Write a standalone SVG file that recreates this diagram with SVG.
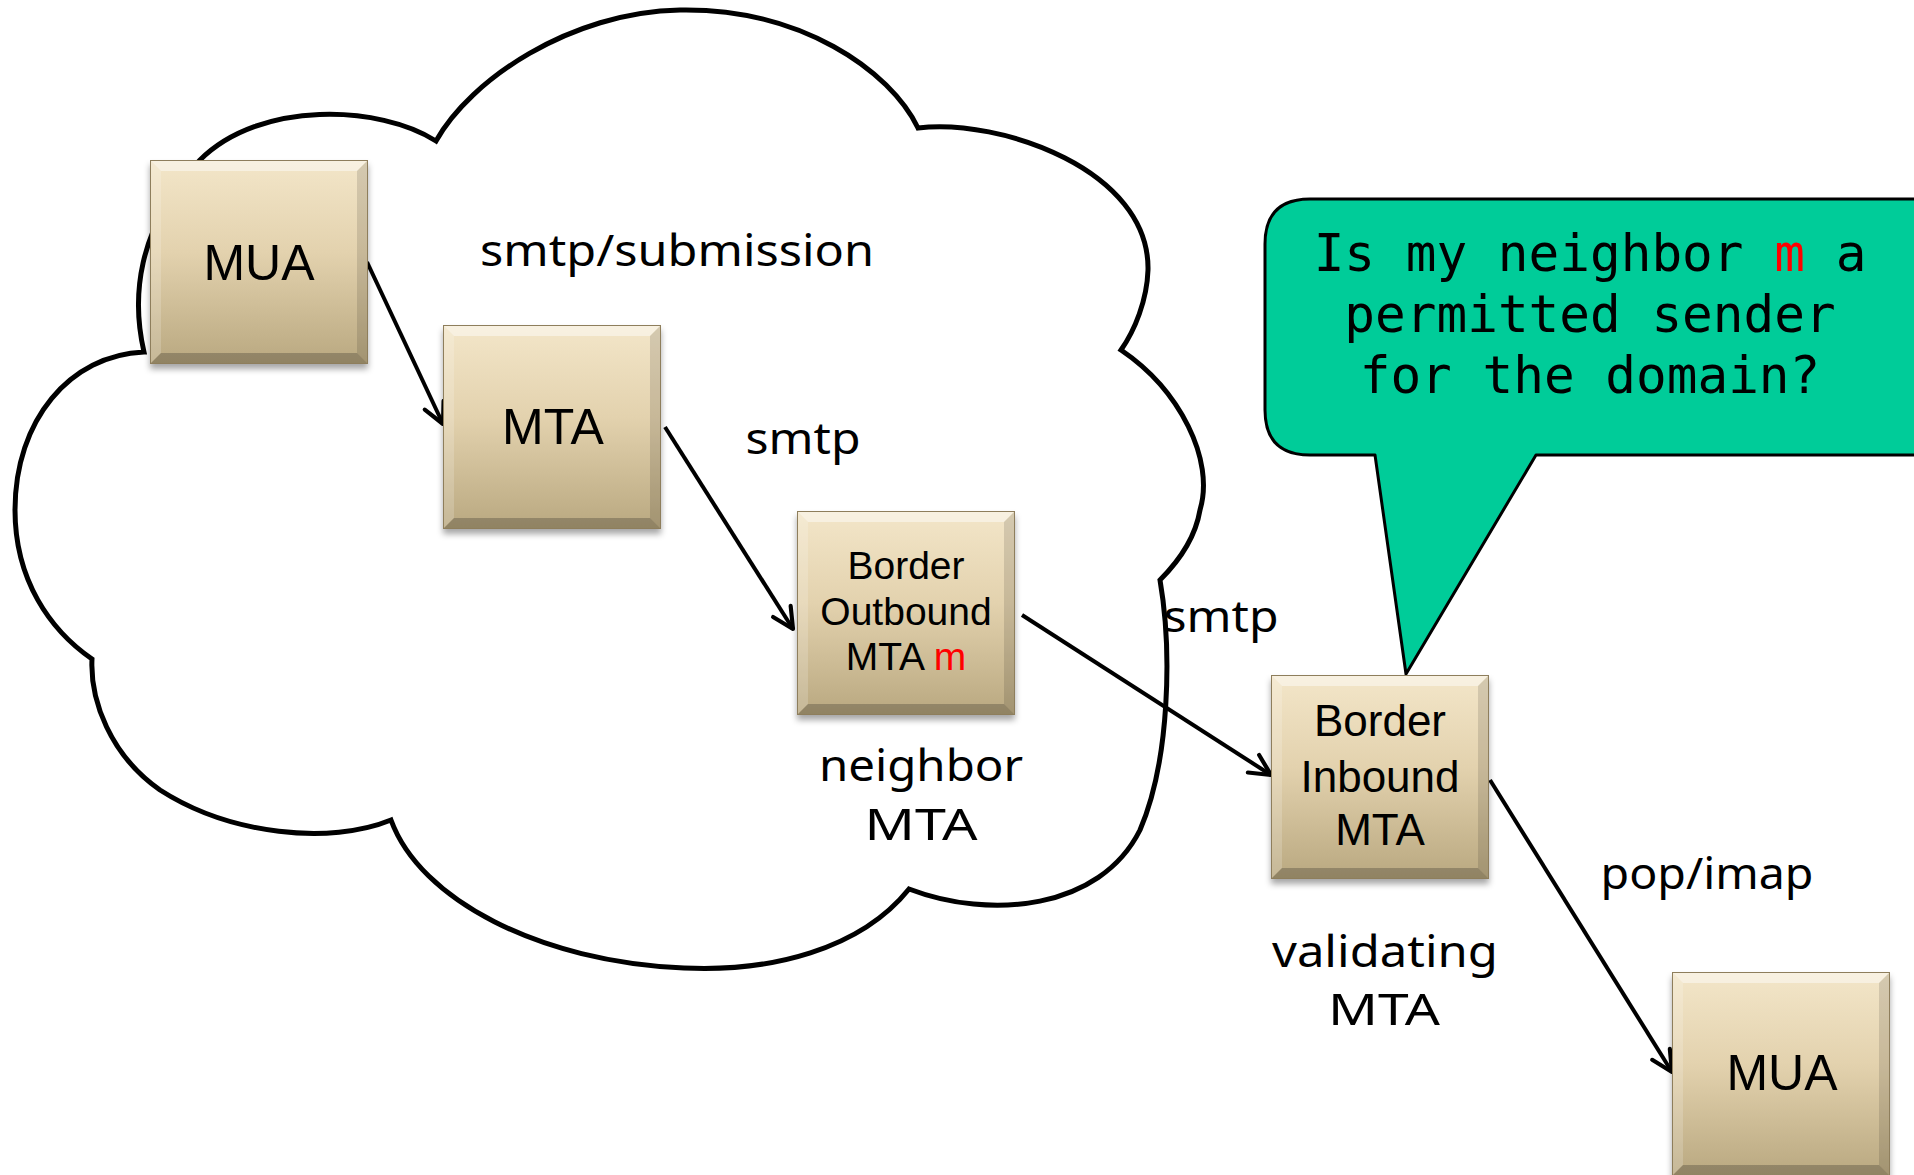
<svg xmlns="http://www.w3.org/2000/svg" xmlns:xlink="http://www.w3.org/1999/xlink" width="1914" height="1175" viewBox="0 0 1914 1175">
<style>
.box-label{font-family:"Liberation Sans",Arial,sans-serif;fill:#000;text-anchor:middle}
.hand{font-family:"Noto Sans","DejaVu Sans",sans-serif;font-size:44px;fill:#000;text-anchor:middle}
.mono{font-family:"DejaVu Sans Mono","Liberation Mono",monospace;font-size:51px;fill:#000;text-anchor:middle}
.red{fill:#ff0000}
.conn{stroke:#000;stroke-width:4;fill:none;marker-end:url(#arrow)}
</style>
<defs>
<linearGradient id="boxGrad" x1="0" y1="0" x2="0" y2="1">
<stop offset="0" stop-color="#F3E6C9"/>
<stop offset="0.45" stop-color="#E3D2AE"/>
<stop offset="1" stop-color="#B9A880"/>
</linearGradient>
<filter id="shadow" x="-10%" y="-10%" width="120%" height="125%">
<feDropShadow dx="0" dy="5" stdDeviation="3" flood-color="#000" flood-opacity="0.35"/>
</filter>
<g id="boxShape">
<rect x="0" y="0" width="218" height="204" fill="url(#boxGrad)"/>
<polygon points="0,0 218,0 207,11 11,11" fill="#fff" opacity="0.45"/>
<polygon points="0,0 11,11 11,193 0,204" fill="#fff" opacity="0.18"/>
<polygon points="218,0 218,204 207,193 207,11" fill="#000" opacity="0.12"/>
<polygon points="0,204 218,204 207,193 11,193" fill="#000" opacity="0.22"/>
<rect x="0.5" y="0.5" width="217" height="203" fill="none" stroke="#8E7E5C" stroke-width="1"/>
</g>
<marker id="arrow" viewBox="0 0 20 20" refX="18" refY="10" markerWidth="26" markerHeight="26" orient="auto" markerUnits="userSpaceOnUse">
<path d="M2,2 L18,10 L2,18" fill="none" stroke="#000" stroke-width="3.2" stroke-linecap="round" stroke-linejoin="round"/>
</marker>
</defs>
<rect width="1914" height="1175" fill="#fff"/>

<g id="cloud">
<path d="M144,352 C132,300 135,230 200,160 C260,100 380,105 436,141 C470,80 570,12 680,10 C800,8 890,70 918,128 C1000,118 1150,170 1148,270 C1147,300 1135,330 1121,350 C1180,390 1215,460 1200,510 C1195,540 1175,565 1160,580 C1172,650 1170,760 1140,830 C1100,910 990,920 909,889 C860,950 770,972 684,968 C540,962 420,900 391,820 C330,845 230,835 160,790 C110,755 90,700 92,659 C50,630 15,580 15,510 C15,420 70,355 144,352 Z" fill="#fff" stroke="#000" stroke-width="5" stroke-linejoin="miter"/>
</g>

<g id="callout">
<path d="M1310,199 L1920,199 L1920,455 L1536,455 L1406,674 L1375,455 L1310,455 Q1265,455 1265,410 L1265,244 Q1265,199 1310,199 Z" fill="#00CC99" stroke="#000" stroke-width="3" stroke-linejoin="round"/>
<text class="mono" x="1590" y="271">Is my neighbor <tspan class="red">m</tspan> a</text>
<text class="mono" x="1590" y="332">permitted sender</text>
<text class="mono" x="1590" y="393">for the domain?</text>
</g>

<g id="connectors">
<line class="conn" x1="367" y1="262" x2="443" y2="424"/>
<line class="conn" x1="665" y1="427" x2="793" y2="629"/>
<line class="conn" x1="1022" y1="615" x2="1271" y2="775"/>
<line class="conn" x1="1490" y1="780" x2="1672" y2="1072"/>
</g>

<g id="mua1">
<use xlink:href="#boxShape" x="150" y="160" filter="url(#shadow)"/>
<text class="box-label" x="259" y="280" font-size="50">MUA</text>
</g>
<g id="mta">
<use xlink:href="#boxShape" x="443" y="325" filter="url(#shadow)"/>
<text class="box-label" x="553" y="444" font-size="50">MTA</text>
</g>
<g id="border-outbound">
<use xlink:href="#boxShape" x="797" y="511" filter="url(#shadow)"/>
<text class="box-label" x="906" y="579" font-size="39">Border</text>
<text class="box-label" x="906" y="625" font-size="39">Outbound</text>
<text class="box-label" x="906" y="670" font-size="39">MTA <tspan class="red">m</tspan></text>
</g>
<g id="border-inbound">
<use xlink:href="#boxShape" x="1271" y="675" filter="url(#shadow)"/>
<text class="box-label" x="1380" y="736" font-size="44">Border</text>
<text class="box-label" x="1380" y="792" font-size="44">Inbound</text>
<text class="box-label" x="1380" y="845" font-size="44">MTA</text>
</g>
<g id="mua2">
<use xlink:href="#boxShape" x="1672" y="972" filter="url(#shadow)"/>
<text class="box-label" x="1782" y="1090" font-size="50">MUA</text>
</g>

<g id="labels">
<text class="hand" x="677" y="266" textLength="394" lengthAdjust="spacingAndGlyphs">smtp/submission</text>
<text class="hand" x="803" y="454" textLength="115" lengthAdjust="spacingAndGlyphs">smtp</text>
<text class="hand" x="1221" y="632" textLength="115" lengthAdjust="spacingAndGlyphs">smtp</text>
<text class="hand" x="921" y="781" textLength="204" lengthAdjust="spacingAndGlyphs">neighbor</text>
<text class="hand" x="921" y="840" textLength="113" lengthAdjust="spacingAndGlyphs">MTA</text>
<text class="hand" x="1707" y="889" textLength="213" lengthAdjust="spacingAndGlyphs">pop/imap</text>
<text class="hand" x="1385" y="967" textLength="226" lengthAdjust="spacingAndGlyphs">validating</text>
<text class="hand" x="1384" y="1025" textLength="112" lengthAdjust="spacingAndGlyphs">MTA</text>
</g>
</svg>
